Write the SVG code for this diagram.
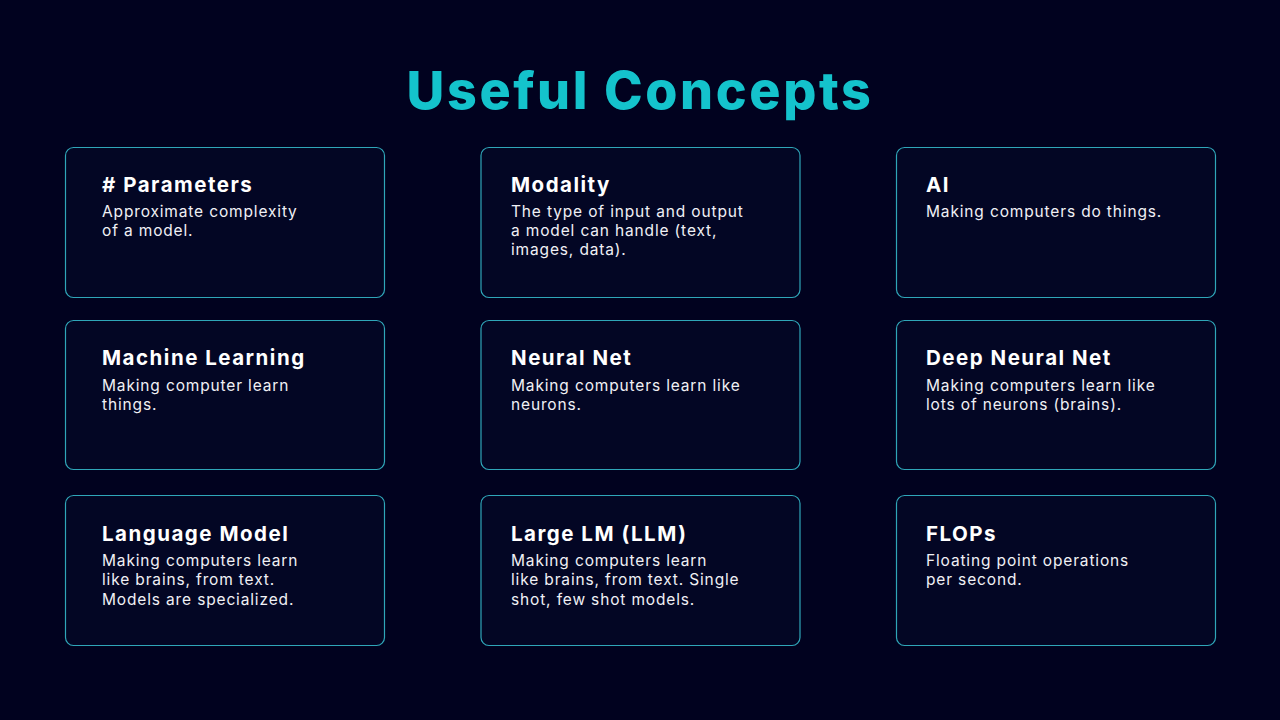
<svg xmlns="http://www.w3.org/2000/svg" width="1280" height="720" viewBox="0 0 1280 720">
<style>
.card{fill:#030624;stroke:#2fa6b8;stroke-width:1.2}
.t{font-family:Inter,"Liberation Sans",sans-serif;font-weight:700;font-size:20.5px;fill:#ffffff;letter-spacing:1.5px}
.b{font-family:Inter,"Liberation Sans",sans-serif;font-size:15.5px;fill:#f0f0f5;letter-spacing:0.85px}
.h{font-family:Inter,"Liberation Sans",sans-serif;font-weight:800;font-size:52px;fill:#14c3cc;letter-spacing:2.6px}
</style>
<rect width="1280" height="720" fill="#01021f"/>
<text class="h" x="640" y="109" text-anchor="middle">Useful Concepts</text>
<g id="n1"><rect class="card" x="65.5" y="147.5" width="319" height="150" rx="8"/><text class="t" x="102" y="192"># Parameters</text><text class="b" x="102" y="217">Approximate complexity</text><text class="b" x="102" y="236">of a model.</text></g>
<g id="n2"><rect class="card" x="481" y="147.5" width="319" height="150" rx="8"/><text class="t" x="511" y="192">Modality</text><text class="b" x="511" y="217">The type of input and output</text><text class="b" x="511" y="236">a model can handle (text,</text><text class="b" x="511" y="255">images, data).</text></g>
<g id="n3"><rect class="card" x="896.5" y="147.5" width="319" height="150" rx="8"/><text class="t" x="926" y="192">AI</text><text class="b" x="926" y="217">Making computers do things.</text></g>
<g id="n4"><rect class="card" x="65.5" y="320.5" width="319" height="149" rx="8"/><text class="t" x="102" y="365">Machine Learning</text><text class="b" x="102" y="391">Making computer learn</text><text class="b" x="102" y="410">things.</text></g>
<g id="n5"><rect class="card" x="481" y="320.5" width="319" height="149" rx="8"/><text class="t" x="511" y="365">Neural Net</text><text class="b" x="511" y="391">Making computers learn like</text><text class="b" x="511" y="410">neurons.</text></g>
<g id="n6"><rect class="card" x="896.5" y="320.5" width="319" height="149" rx="8"/><text class="t" x="926" y="365">Deep Neural Net</text><text class="b" x="926" y="391">Making computers learn like</text><text class="b" x="926" y="410">lots of neurons (brains).</text></g>
<g id="n7"><rect class="card" x="65.5" y="495.5" width="319" height="150" rx="8"/><text class="t" x="102" y="541">Language Model</text><text class="b" x="102" y="566">Making computers learn</text><text class="b" x="102" y="585">like brains, from text.</text><text class="b" x="102" y="605">Models are specialized.</text></g>
<g id="n8"><rect class="card" x="481" y="495.5" width="319" height="150" rx="8"/><text class="t" x="511" y="541">Large LM (LLM)</text><text class="b" x="511" y="566">Making computers learn</text><text class="b" x="511" y="585">like brains, from text. Single</text><text class="b" x="511" y="605">shot, few shot models.</text></g>
<g id="n9"><rect class="card" x="896.5" y="495.5" width="319" height="150" rx="8"/><text class="t" x="926" y="541">FLOPs</text><text class="b" x="926" y="566">Floating point operations</text><text class="b" x="926" y="585">per second.</text></g>
<g id="connectors"/>
</svg>
